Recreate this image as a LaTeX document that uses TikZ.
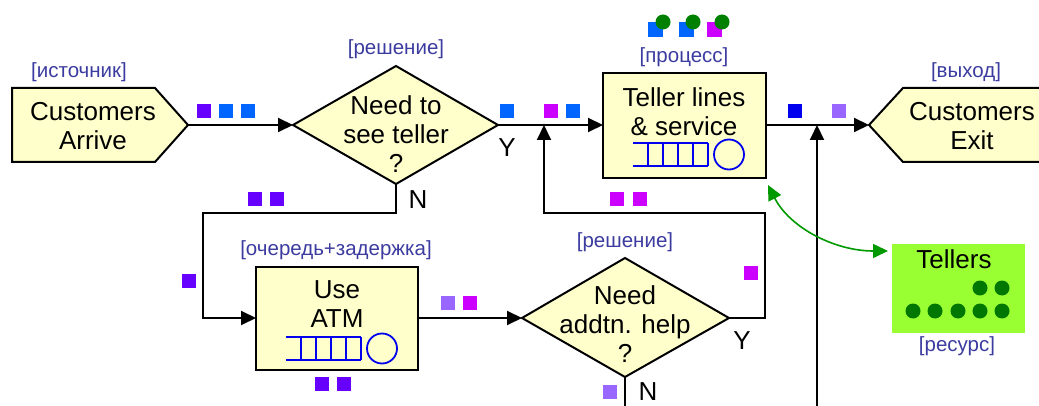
\documentclass[tikz,border=0pt]{standalone}
\usepackage{fontspec}
\setmainfont{Liberation Sans}
\usetikzlibrary{arrows.meta}
\definecolor{fillY}{HTML}{FFFFCC}
\definecolor{lblblue}{HTML}{3C3CA0}
\definecolor{cviolet}{HTML}{6600FF}
\definecolor{cblue}{HTML}{0066FF}
\definecolor{cdblue}{HTML}{0000EE}
\definecolor{cmag}{HTML}{CC00FF}
\definecolor{clav}{HTML}{9966FF}
\definecolor{cqueue}{HTML}{0000EE}
\definecolor{cgreen}{HTML}{009900}
\definecolor{cdgreen}{HTML}{007700}
\definecolor{ctokgreen}{HTML}{008000}
\definecolor{cres}{HTML}{99FF33}
\tikzset{
  blockshape/.style={draw=black, line width=2pt, fill=fillY, line join=miter},
  flow/.style={line width=2pt, -{Triangle[length=15pt,width=14pt]}},
  plain/.style={line width=2pt},
  txt/.style={font=\fontsize{26}{29}\selectfont, align=center, inner sep=0pt},
  lbl/.style={font=\fontsize{20.5}{22}\selectfont, text=lblblue, inner sep=0pt},
  tok/.style={minimum size=14.5pt, inner sep=0pt, fill=#1, draw=none},
  dot/.style={circle, minimum size=15pt, inner sep=0pt, fill=#1, draw=none},
  queue/.pic={
    \draw[cqueue, line width=1.8pt] (0,0) -- (75,0) (0,23) -- (75,23)
      (15,0) -- (15,23) (30,0) -- (30,23) (45,0) -- (45,23) (60,0) -- (60,23) (75,0) -- (75,23);
    \draw[cqueue, line width=1.8pt] (96,11.5) circle (15);
  }
}
\begin{document}
\begin{tikzpicture}[x=1pt,y=-1pt]
\useasboundingbox (0,0) rectangle (1039,406);

% ---------- shapes ----------
% Customers Arrive (source)
\draw[blockshape] (12,88) -- (155,88) -- (188,125) -- (155,162) -- (12,162) -- cycle;
\coordinate (srcOut) at (188,125);
\node[txt] (src) at (93,126) {Customers\\Arrive};
\node[lbl] (srcL) at (79,72) {[источник]};

% Decision 1
\draw[blockshape] (293,125) -- (396,66) -- (498,125) -- (396,184) -- cycle;
\coordinate (d1In) at (293,125);
\coordinate (d1Out) at (498,125);
\coordinate (d1Bot) at (396,184);
\node[txt] (d1) at (396,134) {Need to\\see teller\\?};
\node[lbl] (d1L) at (396,49) {[решение]};
\node[txt] (d1Y) at (507,148) {Y};
\node[txt] (d1N) at (418,200) {N};

% Teller lines
\draw[blockshape] (603,73) rectangle (766,178);
\coordinate (tIn) at (603,125);
\coordinate (tOut) at (766,125);
\node[txt] (tel) at (684,112) {Teller lines\\\& service};
\pic at (633,143) {queue};
\node[lbl] (telL) at (684,57) {[процесс]};

% Customers Exit (sink)
\draw[blockshape] (869,125) -- (903,88) -- (1045,88) -- (1045,162) -- (903,162) -- cycle;
\coordinate (exIn) at (869,125);
\node[txt] (ex) at (972,126) {Customers\\Exit};
\node[lbl] (exL) at (966,72) {[выход]};

% Use ATM
\draw[blockshape] (256,267) rectangle (418,370);
\coordinate (atmIn) at (256,318);
\coordinate (atmOut) at (418,318);
\node[txt] (atm) at (337,304) {Use\\ATM};
\pic at (286,337) {queue};
\node[lbl] (atmL) at (336,250) {[очередь+задержка]};

% Decision 2
\draw[blockshape] (522,318) -- (625,258) -- (729,318) -- (625,377) -- cycle;
\coordinate (d2In) at (522,318);
\coordinate (d2Out) at (729,318);
\coordinate (d2Bot) at (625,377);
\node[txt] (d2) at (625,324) {Need\\addtn. help\\?};
\node[lbl] (d2L) at (625,242) {[решение]};
\node[txt] (d2Y) at (742,341) {Y};
\node[txt] (d2N) at (648,392) {N};

% Tellers resource
\node[fill=cres, minimum width=133pt, minimum height=89pt, inner sep=0pt] (res) at (958.5,288.5) {};
\node[txt] (resT) at (954,259) {Tellers};
\node[lbl] (resL) at (957,346) {[ресурс]};
\foreach \x/\y [count=\i] in {980/288,1002/288,913/311,935/311,958/311,980/311,1002/311}
  \node[dot=cdgreen] (rd\i) at (\x,\y) {};

% ---------- connectors ----------
\coordinate (j1) at (544,125);
\coordinate (j2) at (817,125);
\coordinate (nCorner1) at (396,213);
\coordinate (nCorner2) at (203,213);
\coordinate (nCorner3) at (203,318);
\coordinate (yCorner1) at (765,318);
\coordinate (yCorner2) at (765,213);
\coordinate (yCorner3) at (544,213);
\coordinate (d2End) at (625,406);
\coordinate (j2Bot) at (817,406);

\draw[flow] (srcOut) -- (d1In);
\draw[flow] (d1Out) -- (tIn);
\draw[flow] (tOut) -- (exIn);
\draw[flow] (d1Bot) -- (nCorner1) -- (nCorner2) -- (nCorner3) -- (atmIn);
\draw[flow] (atmOut) -- (d2In);
\draw[flow] (d2Out) -- (yCorner1) -- (yCorner2) -- (yCorner3) -- (j1);
\draw[plain] (d2Bot) -- (d2End);
\draw[flow] (j2Bot) -- (j2);

\coordinate (gA) at (768,185);
\coordinate (gB) at (888,251);
\draw[cgreen, line width=1.6pt, {Triangle[length=15pt,width=14pt]}-{Triangle[length=15pt,width=14pt]}]
  (gA) .. controls (790,228) and (835,251) .. (gB);

% ---------- tokens ----------
\node[tok=cviolet] (k1) at (204,111) {};
\node[tok=cblue] (k2) at (226,111) {};
\node[tok=cblue] (k3) at (248,111) {};
\node[tok=cblue] (k4) at (507,111) {};
\node[tok=cmag] (k5) at (551,111) {};
\node[tok=cblue] (k6) at (573,111) {};
\node[tok=cdblue] (k7) at (795,111) {};
\node[tok=clav] (k8) at (839,111) {};
\node[tok=cviolet] (k9) at (255,199) {};
\node[tok=cviolet] (k10) at (277,199) {};
\node[tok=cviolet] (k11) at (189,281) {};
\node[tok=cviolet] (k12) at (322,384) {};
\node[tok=cviolet] (k13) at (344,384) {};
\node[tok=clav] (k14) at (448,303) {};
\node[tok=cmag] (k15) at (470,303) {};
\node[tok=cmag] (k16) at (617,199) {};
\node[tok=cmag] (k17) at (640,199) {};
\node[tok=cmag] (k18) at (751,273) {};
\node[tok=clav] (k19) at (610,392) {};
% tokens in process
\node[tok=cblue] (p1) at (655.5,29.5) {};
\node[tok=cblue] (p2) at (686.5,29.5) {};
\node[tok=cmag] (p3) at (714.5,29.5) {};
\node[dot=ctokgreen] (pc1) at (663,22) {};
\node[dot=ctokgreen] (pc2) at (693,22) {};
\node[dot=ctokgreen] (pc3) at (722,22) {};
\end{tikzpicture}
\end{document}
